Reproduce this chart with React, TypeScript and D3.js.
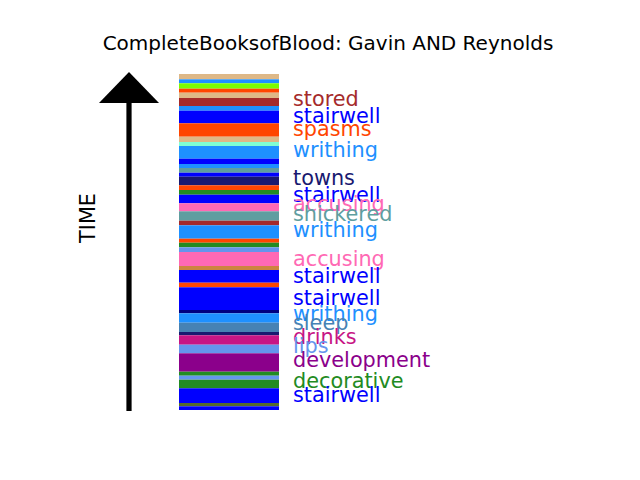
import React from "react";
import * as d3 from "d3";

// Stripes: time interval [from, to] (0 = start of book at bottom) and colour
const stripeFrom = [330.7, 326.7, 321.3, 317.3, 312, 304, 299.3, 286.7, 273.3, 268, 264, 251.3, 246, 242, 237.3, 233.3, 224.7, 220, 215.3, 206.7, 198.7, 189.3, 184.7, 171.3, 167.3, 162.7, 158, 144, 140, 127.3, 122.7, 100, 96.7, 87.3, 78, 74.7, 65.3, 56.7, 38.3, 34.3, 30.3, 21.7, 7, 3.7, 0];
const stripeTo = [336, 330.7, 326.7, 321.3, 317.3, 312, 304, 299.3, 286.7, 273.3, 268, 264, 251.3, 246, 242, 237.3, 233.3, 224.7, 220, 215.3, 206.7, 198.7, 189.3, 184.7, 171.3, 167.3, 162.7, 158, 144, 140, 127.3, 122.7, 100, 96.7, 87.3, 78, 74.7, 65.3, 56.7, 38.3, 34.3, 30.3, 21.7, 7, 3.7];
const stripeColor = ["burlywood", "dodgerblue", "lawngreen", "orangered", "burlywood", "brown", "dodgerblue", "blue", "orangered", "burlywood", "aquamarine", "dodgerblue", "blue", "dodgerblue", "cadetblue", "blue", "midnightblue", "orangered", "forestgreen", "blue", "hotpink", "cadetblue", "brown", "dodgerblue", "orangered", "forestgreen", "cornflowerblue", "hotpink", "peru", "blue", "orangered", "blue", "navy", "dodgerblue", "steelblue", "midnightblue", "mediumvioletred", "cornflowerblue", "darkmagenta", "forestgreen", "cornflowerblue", "forestgreen", "blue", "darkolivegreen", "blue"];

// Word labels
const labelWords = ["stored", "stairwell", "spasms", "writhing", "towns", "stairwell", "accusing", "shickered", "writhing", "accusing", "stairwell", "stairwell", "writhing", "sleep", "drinks", "lips", "development", "decorative", "stairwell"];
const labelTime = [312, 294.7, 282, 261.5, 233, 216, 207.5, 197.5, 181, 152, 134.7, 113, 97, 88, 74.3, 65, 51, 29.7, 16.3];
const labelColor = ["brown", "blue", "orangered", "dodgerblue", "midnightblue", "blue", "hotpink", "cadetblue", "dodgerblue", "hotpink", "blue", "blue", "dodgerblue", "steelblue", "mediumvioletred", "cornflowerblue", "darkmagenta", "forestgreen", "blue"];

const title = "CompleteBooksofBlood: Gavin AND Reynolds";
const timeDomain = [0, 336];

export default function App() {
  const W = 640, H = 480;
  const y = d3.scaleLinear().domain(timeDomain).range([410, 74]);
  const barX0 = 179, barX1 = 279;
  const font = "DejaVu Sans, sans-serif";
  const arrowX = 129;
  return (
    <svg width={W} height={H} style={{ position: "absolute", left: 0, top: 0, background: "white" }} fontFamily={font}>
      <rect x={0} y={0} width={W} height={H} fill="white" />
      <text x={328} y={50} textAnchor="middle" fontSize={20} fill="black">{title}</text>
      {stripeColor.map((c, i) => (
        <rect key={i} x={barX0} width={barX1 - barX0} y={y(stripeTo[i])} height={y(stripeFrom[i]) - y(stripeTo[i])} fill={c} />
      ))}
      {labelWords.map((w, i) => (
        <text key={i} x={293} y={y(labelTime[i]) + 8} fontSize={20.8} fill={labelColor[i]}>{w}</text>
      ))}
      <rect x={arrowX - 2.6} y={102} width={5.2} height={309} fill="black" />
      <path d={`M${arrowX},72 L${arrowX + 30},103 L${arrowX - 30},103 Z`} fill="black" />
      <text transform="translate(95,218) rotate(-90)" textAnchor="middle" fontSize={20.8} fill="black">TIME</text>
    </svg>
  );
}
